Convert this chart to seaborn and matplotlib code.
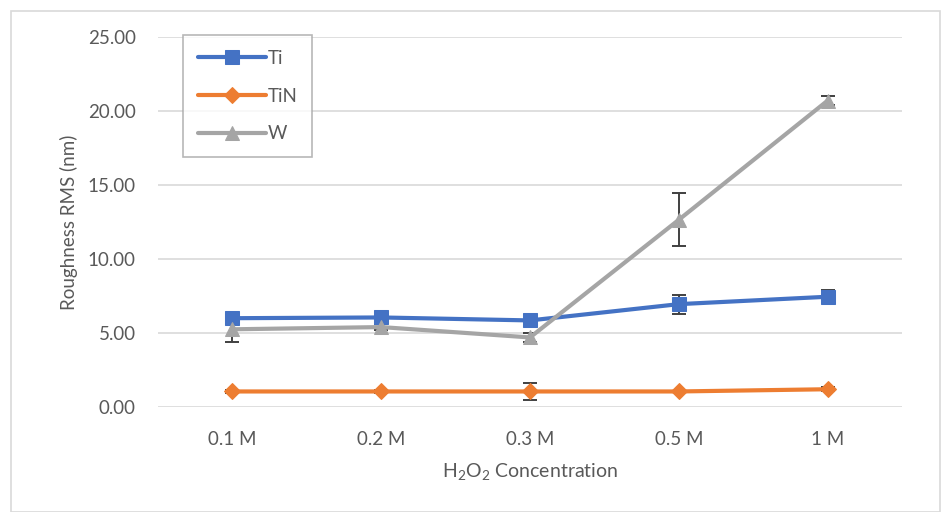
import numpy as np
import pandas as pd
import seaborn as sns
import matplotlib.pyplot as plt
from matplotlib.patches import Rectangle

# data
concentrations = ["0.1 M", "0.2 M", "0.3 M", "0.5 M", "1 M"]
ti = [6.0, 6.05, 5.85, 6.95, 7.45]
ti_err = [0.2, 0.2, 0.35, 0.65, 0.45]
tin = [1.05, 1.05, 1.05, 1.05, 1.2]
tin_err = [0.1, 0.1, 0.55, 0.05, 0.15]
w = [5.25, 5.4, 4.7, 12.65, 20.7]
w_err = [0.85, 0.2, 0.3, 1.8, 0.3]

series = {"Ti": (ti, ti_err), "TiN": (tin, tin_err), "W": (w, w_err)}
colors = {"Ti": "#4472C4", "TiN": "#ED7D31", "W": "#A5A5A5"}
markers = {"Ti": "s", "TiN": "D", "W": "^"}
msizes = {"Ti": 9.5, "TiN": 8, "W": 10.5}

sns.set_theme(style="white")
plt.rcParams['font.family'] = ['Lato', 'DejaVu Sans']
plt.rcParams['mathtext.fontset'] = 'custom'
plt.rcParams['mathtext.rm'] = 'Lato'
plt.rcParams['mathtext.it'] = 'Lato'

fig = plt.figure(figsize=(9.47, 5.12), dpi=100)
ax = fig.add_axes([158 / 947, 1 - 407 / 512, (902 - 158) / 947, (407 - 37) / 512])

# outer chart border
fig.patches.append(Rectangle((11 / 947, 0), 929 / 947, 1 - 11 / 512,
                             transform=fig.transFigure, fill=False,
                             edgecolor="#D9D9D9", linewidth=1.2))

rows = []
for name, (vals, errs) in series.items():
    for c, v in zip(concentrations, vals):
        rows.append({"conc": c, "rms": v, "material": name})
df = pd.DataFrame(rows)

xpos = np.arange(len(concentrations))
for name, (vals, errs) in series.items():
    sub = df[df["material"] == name].copy()
    sub["x"] = xpos
    ax.errorbar(xpos, vals, yerr=errs, fmt="none", ecolor="#404040",
                elinewidth=1.4, capsize=5, capthick=1.4, zorder=2)
    sns.lineplot(data=sub, x="x", y="rms", ax=ax, color=colors[name],
                 marker=markers[name], markersize=msizes[name],
                 markeredgecolor=colors[name], linewidth=3, label=name,
                 zorder=3)

ax.set_xlim(-0.5, len(concentrations) - 0.5)
ax.set_ylim(0, 25)
ax.set_yticks(np.arange(0, 26, 5))
ax.set_yticklabels([f"{v:.2f}" for v in np.arange(0, 26, 5)])
ax.set_xticks(xpos)
ax.set_xticklabels(concentrations)
ax.grid(axis="y", color="#D9D9D9", linewidth=1.2)
ax.set_axisbelow(True)
for s in ax.spines.values():
    s.set_visible(False)
ax.tick_params(axis="both", length=0, labelsize=13.5, labelcolor="#595959")
ax.tick_params(axis="y", pad=16)
ax.tick_params(axis="x", pad=17)

ax.set_ylabel("Roughness RMS (nm)", fontsize=13.5, color="#595959", labelpad=7)
ax.set_xlabel(r"H$_2$O$_2$ Concentration", fontsize=14, color="#595959",
              labelpad=10)

leg = ax.legend(loc="upper left", bbox_to_anchor=(183 / 947, 1 - 35 / 512),
                bbox_transform=fig.transFigure, frameon=True, fancybox=False,
                handlelength=3.6, handletextpad=0.1, labelspacing=1.1,
                borderpad=0.8, fontsize=13.5, borderaxespad=0)
leg.get_frame().set_edgecolor("#A6A6A6")
leg.get_frame().set_linewidth(1.2)
for t in leg.get_texts():
    t.set_color("#595959")

fig.savefig("out.png", dpi=100)
